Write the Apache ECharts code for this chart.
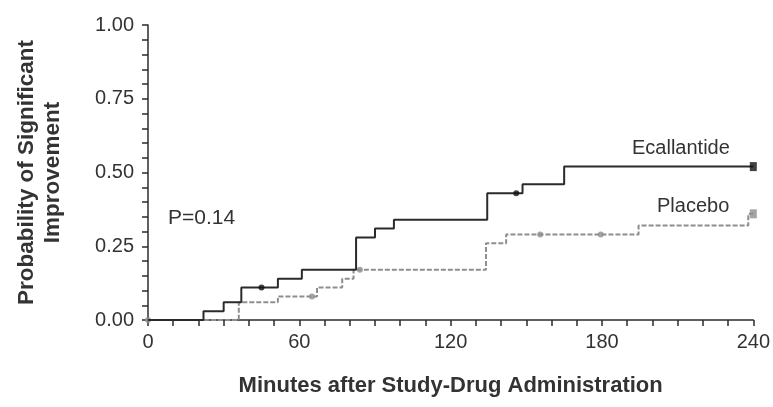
<!DOCTYPE html>
<html>
<head>
<meta charset="utf-8">
<script src="https://cdn.jsdelivr.net/npm/echarts@6/dist/echarts.min.js"></script>
<style>
  html, body { margin: 0; padding: 0; background: #fff; }
  #chart { width: 773px; height: 407px; }
</style>
</head>
<body>
<div id="chart"></div>
<script>
// Kaplan–Meier style cumulative probability of significant improvement
const ecallantideTime = [0, 22, 30, 37, 51.5, 61, 82.5, 90, 97.5, 134.5, 148.5, 165, 240];
const ecallantideProb = [0, 0.03, 0.06, 0.11, 0.14, 0.17, 0.28, 0.31, 0.34, 0.43, 0.46, 0.52, 0.52];
const ecallantideMarkTime = [45, 146];
const ecallantideMarkProb = [0.11, 0.43];

const placeboTime = [0, 36, 51.5, 67, 77, 81.5, 134, 142, 194.5, 238, 240];
const placeboProb = [0, 0.06, 0.08, 0.11, 0.14, 0.17, 0.26, 0.29, 0.32, 0.36, 0.36];
const placeboMarkTime = [0, 65, 84, 155.5, 179.5];
const placeboMarkProb = [0, 0.08, 0.17, 0.29, 0.29];

const xTicks = [0, 60, 120, 180, 240];
const yTicks = [0, 0.25, 0.5, 0.75, 1];

const pValueText = 'P=0.14';
const seriesNames = ['Ecallantide', 'Placebo'];

const zip = (xs, ys) => xs.map((x, i) => [x, ys[i]]);
const last = a => a[a.length - 1];

const ink = '#2b2b2b';
const grey = '#8e8e8e';
const font = 'Liberation Sans, Arial, sans-serif';

const chart = echarts.init(document.getElementById('chart'), null, { renderer: 'canvas' });

chart.setOption({
  animation: false,
  backgroundColor: '#fff',
  grid: { left: 148, right: 18, top: 25, bottom: 87, containLabel: false },
  xAxis: {
    type: 'value',
    min: xTicks[0], max: last(xTicks), interval: xTicks[1] - xTicks[0],
    name: 'Minutes after Study-Drug Administration',
    nameLocation: 'middle', nameGap: 55,
    nameTextStyle: { fontFamily: font, fontSize: 22, fontWeight: 'bold', color: '#333' },
    axisLine: { show: true, lineStyle: { color: ink, width: 1.5 } },
    axisTick: { show: true, length: 6, lineStyle: { color: ink, width: 1.5 } },
    minorTick: { show: true, splitNumber: 6, length: 6, lineStyle: { color: ink, width: 1.5 } },
    splitLine: { show: false },
    axisLabel: { fontFamily: font, fontSize: 20, color: '#333', margin: 12 }
  },
  yAxis: {
    type: 'value',
    min: yTicks[0], max: last(yTicks), interval: yTicks[1] - yTicks[0],
    name: 'Probability of Significant\nImprovement',
    nameLocation: 'middle', nameGap: 82, nameRotate: 90,
    nameTextStyle: { fontFamily: font, fontSize: 22.5, fontWeight: 'bold', color: '#333', lineHeight: 26, align: 'center' },
    axisLine: { show: true, lineStyle: { color: ink, width: 1.5 } },
    axisTick: { show: true, length: 6, lineStyle: { color: ink, width: 1.5 } },
    minorTick: { show: true, splitNumber: 5, length: 6, lineStyle: { color: ink, width: 1.5 } },
    splitLine: { show: false },
    axisLabel: { fontFamily: font, fontSize: 20, color: '#333', margin: 14, formatter: v => v.toFixed(2) }
  },
  graphic: [
    { type: 'text', left: 168, top: 208, style: { text: pValueText, font: '21px ' + font, fill: '#333' } },
    { type: 'text', left: 632, top: 138, style: { text: seriesNames[0], font: '20px ' + font, fill: '#333' } },
    { type: 'text', left: 657, top: 196, style: { text: seriesNames[1], font: '20px ' + font, fill: '#333' } }
  ],
  series: [
    {
      name: seriesNames[1], type: 'line', step: 'end', showSymbol: false,
      data: zip(placeboTime, placeboProb),
      lineStyle: { color: grey, width: 2, type: [5, 2] }, z: 2
    },
    {
      type: 'scatter', symbol: 'circle', symbolSize: 6,
      data: zip(placeboMarkTime, placeboMarkProb),
      itemStyle: { color: grey }, z: 3
    },
    {
      type: 'scatter', symbol: 'rect', symbolSize: [7, 9],
      data: [[last(placeboTime), last(placeboProb)]],
      itemStyle: { color: grey }, z: 3
    },
    {
      name: seriesNames[0], type: 'line', step: 'end', showSymbol: false,
      data: zip(ecallantideTime, ecallantideProb),
      lineStyle: { color: ink, width: 2 }, z: 4
    },
    {
      type: 'scatter', symbol: 'circle', symbolSize: 6,
      data: zip(ecallantideMarkTime, ecallantideMarkProb),
      itemStyle: { color: '#111' }, z: 5
    },
    {
      type: 'scatter', symbol: 'rect', symbolSize: [7, 9],
      data: [[last(ecallantideTime), last(ecallantideProb)]],
      itemStyle: { color: '#111' }, z: 5
    }
  ]
});
</script>
</body>
</html>
